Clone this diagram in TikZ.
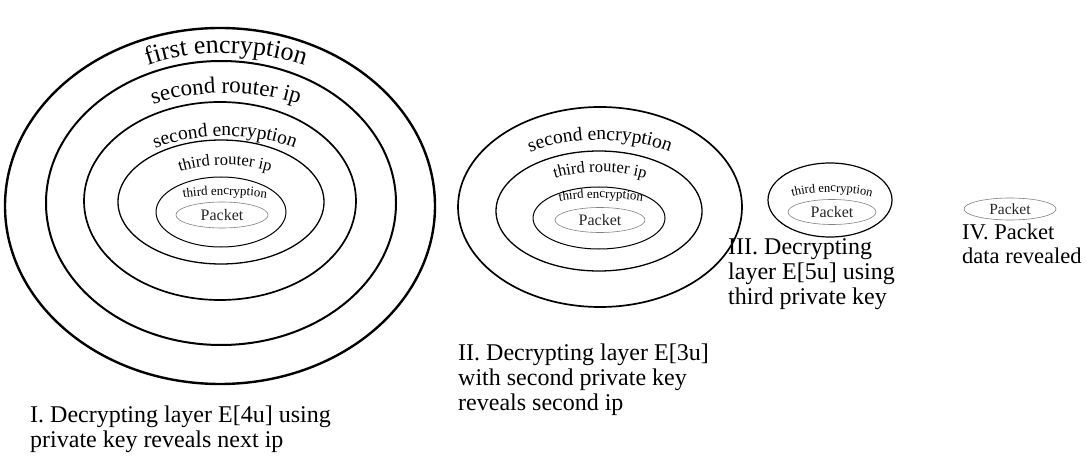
\documentclass[tikz,border=0pt]{standalone}
\usepackage{fontspec}
\setmainfont{Liberation Serif}
\usepackage{tikz}
\usetikzlibrary{shapes.geometric, decorations.text}

\begin{document}
\begin{tikzpicture}
  [x=1pt, y=1pt,
   ring/.style={ellipse, draw, inner sep=0pt},
   pkt/.style={ellipse, draw=gray, line width=0.6pt, inner sep=0pt, text=black!85, font=\fontsize{16}{16}\selectfont},
   ringtext/.style 2 args={decorate, decoration={text along path, text align=center,
     text={|\fontsize{#1}{#1}\selectfont|#2}}},
   caption/.style={inner sep=0pt, align=left, anchor=north west, font=\fontsize{24}{25}\selectfont}]

\useasboundingbox (0,0) rectangle (1086,464);

%%%  nodes

% first onion: all layers
\node [ring, line width=2.4pt, minimum width=430, minimum height=356] (e1) at (220,258) {};
\node [ring, line width=2.0pt, minimum width=350, minimum height=284] (e2) at (221,261) {};
\node [ring, line width=1.7pt, minimum width=272, minimum height=198] (e3) at (220,263) {};
\node [ring, line width=1.3pt, minimum width=206, minimum height=124] (e4) at (221,262) {};
\node [ring, line width=1.0pt, minimum width=130, minimum height=70] (e5) at (221,252) {};
\node [pkt, minimum width=92, minimum height=26] (p1) at (222,249) {Packet};

% second onion
\node [ring, line width=1.7pt, minimum width=284, minimum height=200] (f1) at (600,257) {};
\node [ring, line width=1.3pt, minimum width=206, minimum height=120] (f2) at (599,253) {};
\node [ring, line width=1.0pt, minimum width=132, minimum height=62] (f3) at (599,246) {};
\node [pkt, minimum width=90, minimum height=25] (p2) at (600,244) {Packet};

% third onion
\node [ring, line width=1.2pt, minimum width=124, minimum height=74] (g1) at (830,264) {};
\node [pkt, minimum width=88, minimum height=25] (p3) at (832,252) {Packet};

% bare packet
\node [pkt, minimum width=92, minimum height=22, font=\fontsize{15.5}{15.5}\selectfont] (p4) at (1010,255) {Packet};

%%%  layer names

% first onion
\path [ringtext={26}{first encryption}] (226,262) ++(180:195 and 149) arc [start angle=180, end angle=0, x radius=195, y radius=149];
\path [ringtext={23}{second router ip}] (226,263) ++(180:165 and 108) arc [start angle=180, end angle=0, x radius=165, y radius=108];
\path [ringtext={19.5}{second encryption}] (225,262) ++(180:120 and 66) arc [start angle=180, end angle=0, x radius=120, y radius=66];
\path [ringtext={16.5}{third router ip}] (225,252) ++(180:90 and 47) arc [start angle=180, end angle=0, x radius=90, y radius=47];
\path [ringtext={13}{third encryption}] (225,249) ++(180:80 and 20) arc [start angle=180, end angle=0, x radius=80, y radius=20];

% second onion
\path [ringtext={19.5}{second encryption}] (600,253) ++(180:125 and 71) arc [start angle=180, end angle=0, x radius=125, y radius=71];
\path [ringtext={16.5}{third router ip}] (600,246) ++(180:90 and 46) arc [start angle=180, end angle=0, x radius=90, y radius=46];
\path [ringtext={13}{third encryption}] (601,244) ++(180:80 and 22) arc [start angle=180, end angle=0, x radius=80, y radius=22];

% third onion
\path [ringtext={12.5}{third encryption}] (832,252) ++(180:62 and 20) arc [start angle=180, end angle=0, x radius=62, y radius=20];

%%%  captions

\node [caption] (c1) at (30,58) {I. Decrypting layer E[4u] using\\private key reveals next ip};
\node [caption] (c2) at (458,120.5) {II. Decrypting layer E[3u]\\with second private key\\reveals second ip};
\node [caption] (c3) at (728,226) {III. Decrypting\\layer E[5u] using\\third private key};
\node [caption, font=\fontsize{22.5}{24}\selectfont] (c4) at (962,240) {IV. Packet\\data revealed};

\end{tikzpicture}
\end{document}
